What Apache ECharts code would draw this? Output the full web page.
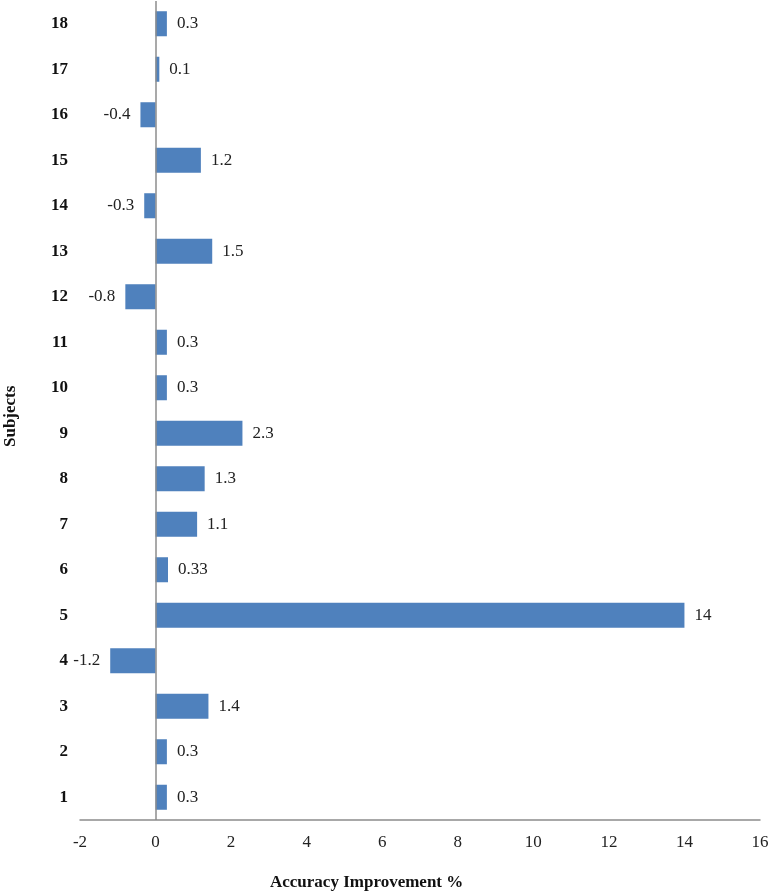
<!DOCTYPE html>
<html><head><meta charset="utf-8">
<script src="https://cdn.jsdelivr.net/npm/echarts@6/dist/echarts.min.js"></script>
<style>html,body{margin:0;padding:0;background:#fff}#c{width:776px;height:892px}</style>
</head><body><div id="c"></div>
<script>
const subjects = ['1','2','3','4','5','6','7','8','9','10','11','12','13','14','15','16','17','18'];
const improvement = [0.3,0.3,1.4,-1.2,14,0.33,1.1,1.3,2.3,0.3,0.3,-0.8,1.5,-0.3,1.2,-0.4,0.1,0.3];
const xMin = -2, xMax = 16, xStep = 2;
const xTitle = 'Accuracy Improvement %';
const yTitle = 'Subjects';

const font = 'Liberation Serif';
const chart = echarts.init(document.getElementById('c'), null, {renderer:'canvas'});
chart.setOption({
  animation:false,
  backgroundColor:'#fff',
  grid:{left:80,right:16,top:1,bottom:72},
  xAxis:{type:'value',min:xMin,max:xMax,interval:xStep,
    axisLine:{show:true,onZero:false,lineStyle:{color:'#8c8c8c',width:1.5}},
    axisTick:{show:false},splitLine:{show:false},
    axisLabel:{color:'#222',fontFamily:font,fontSize:17,margin:14}},
  yAxis:{type:'category',data:subjects,
    axisLine:{show:false},axisTick:{show:false},
    axisLabel:{color:'#111',fontFamily:font,fontSize:17,fontWeight:'bold',margin:12}},
  series:[{type:'bar',
    data:improvement.map(v=>({value:v,label:{position:v<0?'left':'right'}})),
    barCategoryGap:'45%',
    itemStyle:{color:'#4F81BD'},
    label:{show:true,fontFamily:font,fontSize:17,color:'#222',distance:10},
    markLine:{silent:true,symbol:'none',label:{show:false},
      lineStyle:{color:'#8c8c8c',type:'solid',width:1.5},
      data:[{xAxis:0}]}
  }],
  graphic:[
    {type:'text',left:270,top:874,style:{text:xTitle,font:'bold 17px "Liberation Serif"',fill:'#111'}},
    {type:'text',x:2,y:447,rotation:Math.PI/2,style:{text:yTitle,font:'bold 17px "Liberation Serif"',fill:'#111'}}
  ]
});
</script></body></html>
